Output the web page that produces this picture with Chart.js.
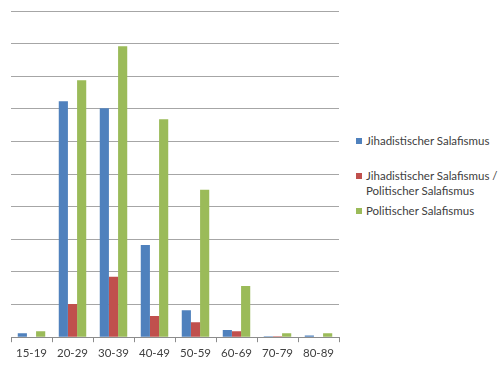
<!DOCTYPE html>
<html>
<head>
<meta charset="utf-8">
<script src="https://cdn.jsdelivr.net/npm/chart.js@4"></script>
<style>
    body { margin: 0; background: #fff; width: 500px; height: 365px; overflow: hidden; position: relative; }
    #wrap { position: absolute; left: 0; top: 0; width: 345px; height: 365px; }
    #legend { position: absolute; left: 356px; top: 0; font-family: Lato, "Open Sans", sans-serif; font-size: 11.5px; color: #404040; }
    .item { position: absolute; left: 0; white-space: nowrap; line-height: 15px; }
    .box { display: inline-block; width: 6px; height: 6px; margin-right: 4px; vertical-align: 1px; }
    .indent { padding-left: 10px; }
</style>
</head>
<body>
<div id="wrap"><canvas id="chart"></canvas></div>
<div id="legend"></div>
<script>
const categories = ['15-19', '20-29', '30-39', '40-49', '50-59', '60-69', '70-79', '80-89'];
const seriesNames = [
    ['Jihadistischer Salafismus'],
    ['Jihadistischer Salafismus /', 'Politischer Salafismus'],
    ['Politischer Salafismus']
];
const jihadistisch = [0.12, 7.23, 7.02, 2.83, 0.83, 0.22, 0.03, 0.05];
const gemischt = [0, 1.02, 1.85, 0.65, 0.46, 0.18, 0.03, 0];
const politisch = [0.18, 7.88, 8.92, 6.68, 4.52, 1.57, 0.12, 0.12];
const farben = ['#4F81BD', '#C0504D', '#9BBB59'];

const werte = [jihadistisch, gemischt, politisch];

// HTML-Legende (mehrzeiliges Label wie im Original)
const legendTops = [133, 168, 203];
const legend = document.getElementById('legend');
seriesNames.forEach((zeilen, i) => {
    const div = document.createElement('div');
    div.className = 'item';
    div.style.top = legendTops[i] + 'px';
    div.innerHTML = '<span class="box" style="background:' + farben[i] + '"></span>' + zeilen[0] +
        (zeilen[1] ? '<br><span class="indent">' + zeilen[1] + '</span>' : '');
    legend.appendChild(div);
});

const ctx = document.getElementById('chart').getContext('2d');
new Chart(ctx, {
    type: 'bar',
    data: {
        labels: categories,
        datasets: werte.map((daten, i) => ({
            label: seriesNames[i].join(' '),
            data: daten,
            backgroundColor: farben[i],
            borderWidth: 0,
            categoryPercentage: 0.67,
            barPercentage: 1.0
        }))
    },
    options: {
        responsive: true,
        maintainAspectRatio: false,
        animation: false,
        layout: { padding: { left: 11, top: 11, right: 6, bottom: 1 } },
        plugins: {
            legend: { display: false },
            tooltip: { enabled: false }
        },
        scales: {
            x: {
                grid: { display: true, drawOnChartArea: false, offset: true, tickLength: 5, color: '#8c8c8c' },
                border: { display: true, color: '#8c8c8c' },
                ticks: { color: '#404040', padding: 4, font: { family: 'Lato, "Open Sans", sans-serif', size: 11.5 } }
            },
            y: {
                min: 0,
                max: 10,
                ticks: { display: false, stepSize: 1 },
                grid: { color: '#a6a6a6', drawTicks: false },
                border: { display: false }
            }
        }
    }
});
</script>
</body>
</html>
